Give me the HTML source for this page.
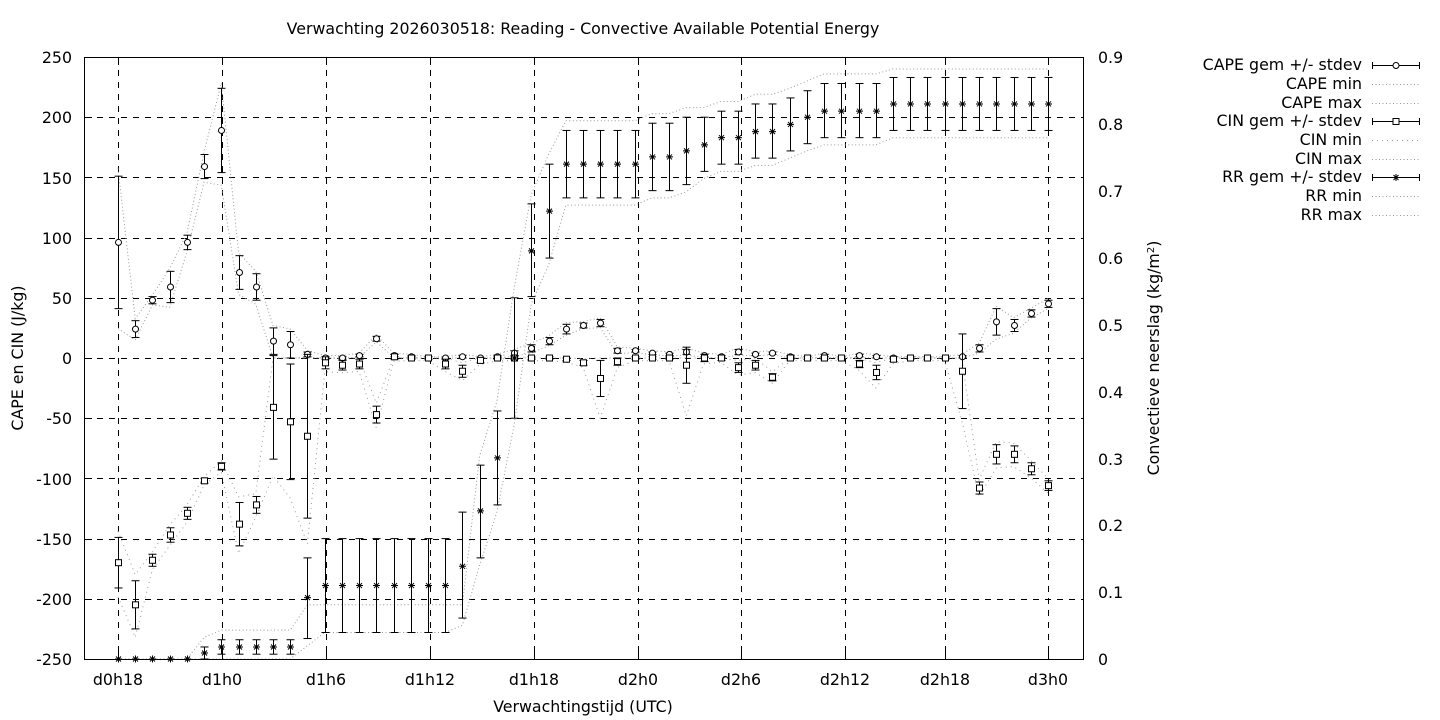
<!DOCTYPE html>
<html><head><meta charset="utf-8"><style>
body{margin:0;background:#fff}
svg{display:block;font-family:"DejaVu Sans","Liberation Sans",sans-serif;font-size:15.8px}
</style></head><body>
<svg id="s" width="1440" height="720" viewBox="0 0 1440 720" xmlns="http://www.w3.org/2000/svg">
<rect width="1440" height="720" fill="#fff"/>
<g id="grid" stroke="#000" stroke-width="1" stroke-dasharray="6,6" fill="none"></g>
<g id="data" fill="none" stroke="#000" stroke-width="1"></g>
<rect x="84.5" y="57.5" width="999" height="602" fill="none" stroke="#000"/>
<g id="ticks" stroke="#000"></g>
<text x="583" y="34" text-anchor="middle">Verwachting 2026030518: Reading - Convective Available Potential Energy</text>
<g text-anchor="end">
<text x="72" y="63">250</text><text x="72" y="123">200</text><text x="72" y="184">150</text>
<text x="72" y="244">100</text><text x="72" y="304">50</text><text x="72" y="364">0</text>
<text x="72" y="424">-50</text><text x="72" y="485">-100</text><text x="72" y="545">-150</text>
<text x="72" y="605">-200</text><text x="72" y="665">-250</text>
</g>
<g>
<text x="1098" y="63">0.9</text><text x="1098" y="130">0.8</text><text x="1098" y="197">0.7</text>
<text x="1098" y="264">0.6</text><text x="1098" y="331">0.5</text><text x="1098" y="398">0.4</text>
<text x="1098" y="465">0.3</text><text x="1098" y="531">0.2</text><text x="1098" y="598">0.1</text>
<text x="1098" y="665">0</text>
</g>
<g text-anchor="middle">
<text x="118" y="685">d0h18</text><text x="222" y="685">d1h0</text><text x="326" y="685">d1h6</text>
<text x="430" y="685">d1h12</text><text x="534" y="685">d1h18</text><text x="638" y="685">d2h0</text>
<text x="741" y="685">d2h6</text><text x="845" y="685">d2h12</text><text x="945" y="685">d2h18</text>
<text x="1048" y="685">d3h0</text>
<text x="583" y="712">Verwachtingstijd (UTC)</text>
</g>
<text transform="translate(23,358) rotate(-90)" text-anchor="middle">CAPE en CIN (J/kg)</text>
<text transform="translate(1159,358) rotate(-90)" text-anchor="middle">Convectieve neerslag (kg/m<tspan dy="-5" font-size="10">2</tspan><tspan dy="5">)</tspan></text>
<g text-anchor="end">
<text x="1362" y="70">CAPE gem +/- stdev</text>
<text x="1362" y="89">CAPE min</text>
<text x="1362" y="108">CAPE max</text>
<text x="1362" y="126">CIN gem +/- stdev</text>
<text x="1362" y="145">CIN min</text>
<text x="1362" y="164">CIN max</text>
<text x="1362" y="182">RR gem +/- stdev</text>
<text x="1362" y="201">RR min</text>
<text x="1362" y="220">RR max</text>
</g>
<g id="leg" stroke="#000" fill="none"></g>
</svg>
<script>
var NS="http://www.w3.org/2000/svg";
function el(p,t,a){var e=document.createElementNS(NS,t);for(var k in a)e.setAttribute(k,a[k]);p.appendChild(e);return e;}
var G=document.getElementById('grid'),D=document.getElementById('data'),T=document.getElementById('ticks'),L=document.getElementById('leg');
function X(i){return 118+17.222*i;}
function Y(v){return 659-(v+250)*1.204;}
var xl=[118,222,326,430,534,638,741,845,945,1048];
xl.forEach(function(x){el(G,'line',{x1:x+.5,y1:58,x2:x+.5,y2:659});el(T,'line',{x1:x+.5,y1:659,x2:x+.5,y2:651});el(T,'line',{x1:x+.5,y1:57,x2:x+.5,y2:65});});
for(var v=-200;v<=200;v+=50){var y=Math.round(Y(v))+.5;el(G,'line',{x1:85,y1:y,x2:1083,y2:y});el(T,'line',{x1:84,y1:y,x2:92,y2:y});}
for(var r=1;r<9;r++){var y=Math.round(659-r/0.9*602)+.5;el(T,'line',{x1:1083,y1:y,x2:1075,y2:y});}
var cape=[96,24,48,59,96,159,189,71,59,14,11,3,0,0,2,16,2,1,0,0,1,0,1,4,8,14,24,27,29,6,6,4,3,5,2,1,5,3,4,1,0,2,0,2,1,0,0,0,0,1,8,30,27,37,45];
var capeE=[55,7,3,13,6,10,35,14,11,11,11,2,1,1,1,2,1,1,0,0,1,0,1,2,3,3,4,2,3,2,1,1,1,2,1,1,2,1,1,1,0,1,0,1,1,0,0,0,0,1,3,11,5,3,3];
var cin=[-170,-205,-168,-147,-129,-102,-90,-138,-122,-41,-53,-65,-4,-6,-5,-47,1,0,0,-5,-11,-2,0,0,0,0,-1,-4,-17,-3,0,0,0,-6,0,0,-8,-6,-16,0,0,0,0,-5,-12,-1,0,0,0,-11,-108,-80,-80,-92,-106];
var cinE=[21,20,5,6,5,2,3,18,7,43,48,68,5,4,4,7,2,1,1,4,5,2,1,1,1,1,1,2,15,3,1,1,1,15,3,2,4,4,3,1,1,1,1,3,6,2,1,1,1,31,5,8,7,5,4];
var rr=[-250,-250,-250,-250,-250,-245,-240,-240,-240,-240,-240,-199,-189,-189,-189,-189,-189,-189,-189,-189,-173,-127,-83,0,89,122,161,161,161,161,161,167,167,172,177,183,183,188,188,194,200,205,205,205,205,211,211,211,211,211,211,211,211,211,211];
var rrH=[null,null,null,null,null,-240,-234,-234,-234,-234,-234,-166,-150,-150,-150,-150,-150,-150,-150,-150,-128,-89,-44,50,128,161,189,189,189,189,189,195,195,200,200,205,205,211,211,216,222,228,228,228,228,233,233,233,233,233,233,233,233,233,233];
var rrL=[null,null,null,null,null,-250,-246,-246,-246,-246,-246,-233,-228,-228,-228,-228,-228,-228,-228,-228,-216,-166,-122,-50,51,83,133,133,133,133,133,139,139,144,155,161,161,166,166,172,178,183,183,183,183,189,189,189,189,189,189,189,189,189,189];
function poly(pts,dash){el(D,'polyline',{points:pts.map(function(p){return p[0].toFixed(1)+','+p[1].toFixed(1)}).join(' '),'stroke-dasharray':dash||'1,2.5','stroke-width':1,stroke:'#999'});}
var n=55,a=[],b=[],c=[],d=[],e=[],f=[];
for(var i=0;i<n;i++){
 a.push([X(i),Y(cape[i]+capeE[i]*1.1+1)]);b.push([X(i),Y(Math.max(0,cape[i]-capeE[i]*1.3))]);
 var cmax=Math.min(0,cin[i]+cinE[i]*1.2+1),cmin=cin[i]-cinE[i]*1.3-1;
 if(i==15)cmin=-58;if(i==28)cmin=-50;if(i==33)cmin=-48;if(i==44)cmin=-25;if(i==50)cmin=-115;
 c.push([X(i),Y(cmax)]);d.push([X(i),Y(Math.max(-250,cmin))]);
 var h=rrH[i]==null?-250:rrH[i]+8,l=rrL[i]==null?-250:rrL[i]-6;
 if(i>=11&&i<=20){h=-205;} if(i>=12&&i<=19)l=-228;
 e.push([X(i),Y(Math.min(h,240))]);f.push([X(i),Y(Math.max(l,-250))]);
}
poly(a);poly(b);poly(c,'1,4');poly(d,'1,4');poly(e);poly(f);
function ebar(x,y1,y2){el(D,'line',{x1:x+.5,y1:y1,x2:x+.5,y2:y2});el(D,'line',{x1:x-3.5,y1:y1,x2:x+4.5,y2:y1});el(D,'line',{x1:x-3.5,y1:y2,x2:x+4.5,y2:y2});}
function circ(x,y){el(D,'circle',{cx:x+.5,cy:y,r:3,fill:'#fff'});}
function sq(x,y){el(D,'rect',{x:x-2.5,y:y-3,width:6,height:6,fill:'#fff'});}
function star(x,y){x+=.5;el(D,'path',{d:'M'+(x-3.5)+' '+y+'h7M'+x+' '+(y-3.5)+'v7M'+(x-2.5)+' '+(y-2.5)+'l5 5M'+(x-2.5)+' '+(y+2.5)+'l5 -5'});}
for(var i=0;i<n;i++){
 var x=Math.round(X(i));
 if(capeE[i]>0)ebar(x,Y(cape[i]+capeE[i]),Y(cape[i]-capeE[i]));circ(x,Y(cape[i]));
 if(cinE[i]>0)ebar(x,Y(cin[i]+cinE[i]),Y(cin[i]-cinE[i]));sq(x,Y(cin[i]));
 if(rrH[i]!=null)ebar(x,Y(rrH[i]),Y(rrL[i]));star(x,Y(rr[i]));
}
var ly=[65,84,103,121,140,159,177,196,215];
ly.forEach(function(y,k){
 var d=(k==4)?'1,4':'1,2.5';
 if(k%3==0){el(L,'line',{x1:1372,y1:y+.5,x2:1420,y2:y+.5});el(L,'line',{x1:1372.5,y1:y-3,x2:1372.5,y2:y+4});el(L,'line',{x1:1419.5,y1:y-3,x2:1419.5,y2:y+4});
  var cx=1396;if(k==0)el(L,'circle',{cx:cx,cy:y+.5,r:3,fill:'#fff'});else if(k==3)el(L,'rect',{x:cx-3,y:y-2.5,width:6,height:6,fill:'#fff'});else el(L,'path',{d:'M'+(cx-3.5)+' '+(y+.5)+'h7M'+cx+' '+(y-3)+'v7M'+(cx-2.5)+' '+(y-2)+'l5 5M'+(cx-2.5)+' '+(y+3)+'l5 -5'});}
 else el(L,'line',{x1:1372,y1:y+.5,x2:1420,y2:y+.5,'stroke-dasharray':d,'stroke-width':1,stroke:'#999'});
});
</script>
</body></html>
